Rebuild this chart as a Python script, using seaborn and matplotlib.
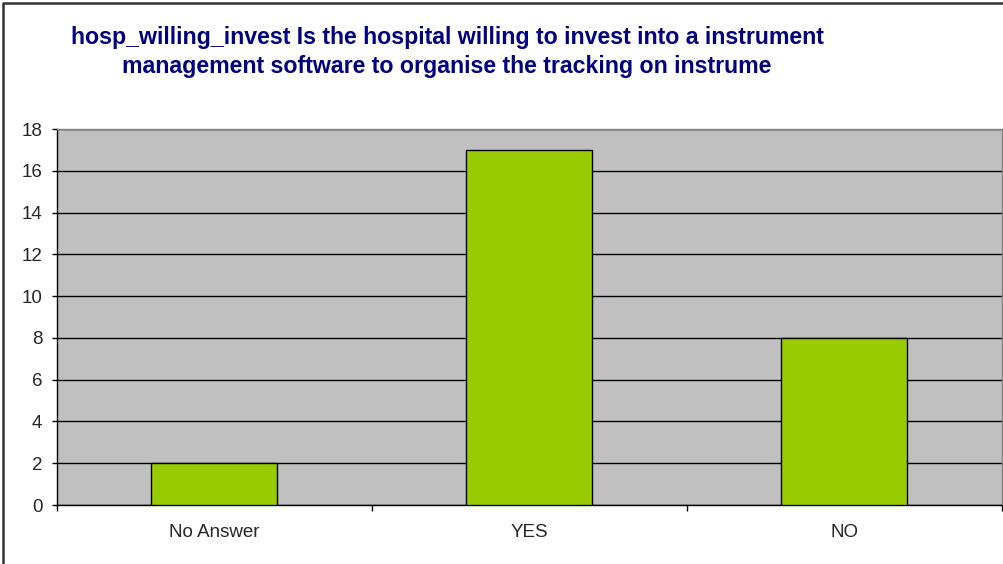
import matplotlib
matplotlib.use("Agg")
import matplotlib.pyplot as plt
import seaborn as sns
import pandas as pd
from matplotlib.lines import Line2D

# dados
categorias = ["No Answer", "YES", "NO"]
contagens = [2, 17, 8]
ticks_y = [0, 2, 4, 6, 8, 10, 12, 14, 16, 18]

titulo = ("hosp_willing_invest Is the hospital willing to invest into a instrument\n"
          "management software to organise the tracking on instrume")

df = pd.DataFrame({"resposta": categorias, "n": contagens})

sns.set_style("white")
plt.rcParams["font.family"] = ["Liberation Sans", "DejaVu Sans"]

fig = plt.figure(figsize=(10.04, 5.64), dpi=100)
ax = fig.add_axes([57 / 1004, 1 - 505 / 564, (1002 - 57) / 1004, (505 - 129) / 564])
ax.set_facecolor("#C0C0C0")

sns.barplot(data=df, x="resposta", y="n", order=categorias, width=0.4,
            color="#99CC00", saturation=1, edgecolor="black", linewidth=1,
            ax=ax, zorder=3)

ax.set_ylim(0, 18)
ax.set_xlim(-0.5, len(categorias) - 0.5)
ax.set_yticks(ticks_y)
ax.yaxis.grid(True, color="black", linewidth=1)
ax.set_axisbelow(True)

ax.set_xlabel("")
ax.set_ylabel("")
ax.tick_params(axis="y", left=True, length=3.6, width=1, color="black",
               labelsize=13.5, pad=7)
ax.tick_params(axis="x", which="major", length=0, labelsize=13.5, pad=14)
ax.set_xticks([i + 0.5 for i in range(-1, len(categorias))], minor=True)
ax.tick_params(axis="x", which="minor", bottom=True, length=4, width=1, color="black")

for lado in ["left", "bottom"]:
    ax.spines[lado].set_color("black")
    ax.spines[lado].set_linewidth(1)
for lado in ["top", "right"]:
    ax.spines[lado].set_color("#808080")
    ax.spines[lado].set_linewidth(1)

fig.text(447 / 1004, 1 - 52 / 564, titulo, ha="center", va="center",
         fontsize=16.7, fontweight="bold", color="#000080", linespacing=1.3)

# borda do gráfico (recortada à direita e embaixo)
fig.add_artist(Line2D([3 / 1004, 3 / 1004, 1], [0, 1 - 2.5 / 564, 1 - 2.5 / 564],
                      transform=fig.transFigure, color="#333333", linewidth=1.8))

fig.savefig("out.png", dpi=100)
